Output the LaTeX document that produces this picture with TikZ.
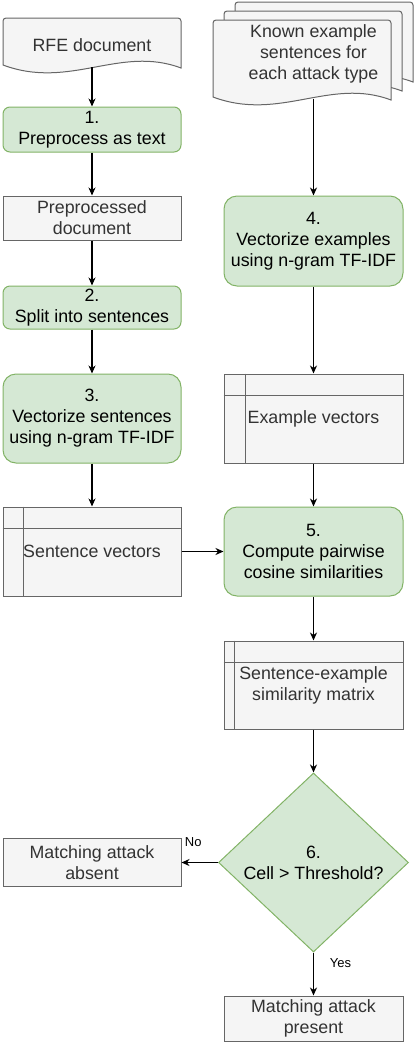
\documentclass[tikz,border=0pt]{standalone}
\usepackage{fontspec}
\setmainfont{Liberation Sans}
\usetikzlibrary{shapes.geometric,arrows.meta}

\definecolor{stepfill}{HTML}{D5E8D4}
\definecolor{stepline}{HTML}{82B366}
\definecolor{datafill}{HTML}{F5F5F5}
\definecolor{dataline}{HTML}{666666}
\definecolor{datatext}{HTML}{333333}

\tikzset{
  every node/.style={font=\fontsize{17.8pt}{21pt}\selectfont, align=center, inner sep=0pt},
  stepbox/.style={draw=stepline, fill=stepfill, line width=1pt, rounded corners=7pt},
  bigstep/.style={stepbox, rounded corners=13pt},
  databox/.style={draw=dataline, fill=datafill, text=datatext, line width=1pt},
  doctext/.style={text=datatext},
  decision/.style={shape=diamond, draw=stepline, fill=stepfill, line width=1pt,
    minimum width=190pt, minimum height=179pt},
  docline/.style={draw=dataline, fill=datafill, line width=1pt},
  flow/.style={line width=1.1pt, -{Stealth[length=8pt,width=7pt,inset=2.5pt]}},
  edgelabel/.style={font=\fontsize{13pt}{15pt}\selectfont}
}

% document shape: left, top, width, height
\newcommand{\docpath}[4]{%
  \path[docline] [rounded corners=3pt] (#1,{#2+#4-3}) -- (#1,#2) -- ({#1+#3},#2)
    [sharp corners] -- ({#1+#3},{#2+#4})
    .. controls ({#1+0.657*#3},{#2+#4-23}) and ({#1+0.376*#3},{#2+#4+22}) .. (#1,{#2+#4-3}) -- cycle;}

\begin{document}
\begin{tikzpicture}[x=1pt,y=-1pt]
\useasboundingbox (0,0) rectangle (414,1042);

% input documents
\docpath{3}{18}{178}{50}
\docpath{235}{2}{178}{80}
\docpath{224}{11}{178}{80}
\docpath{213}{20}{178}{80}
\node[doctext, minimum width=178pt, minimum height=44pt] (rfe) at (92,45) {RFE document};
\node[doctext, minimum width=200pt, minimum height=90pt] (known) at (313.5,54)
  {Known example\\sentences for\\each attack type};

% left column
\node[stepbox, minimum width=178pt, minimum height=45pt] (prep) at (92,129.5) {1.\\Preprocess as text};
\node[databox, minimum width=178pt, minimum height=44pt] (prepdoc) at (92,218) {Preprocessed\\document};
\node[stepbox, minimum width=178pt, minimum height=43pt] (split) at (92,307.5) {2.\\Split into sentences};
\node[bigstep, minimum width=178pt, minimum height=89pt] (vecsent) at (92,418.5) {3.\\Vectorize sentences\\using n-gram TF-IDF};
\node[databox, minimum width=178pt, minimum height=89pt] (sentvec) at (92,551.5) {Sentence vectors};

% right column
\node[bigstep, minimum width=179pt, minimum height=90pt] (vecex) at (313.5,241) {4.\\Vectorize examples\\using n-gram TF-IDF};
\node[databox, minimum width=179pt, minimum height=89pt] (exvec) at (313.5,418.5) {Example vectors};
\node[bigstep, minimum width=179pt, minimum height=89pt] (cosine) at (313.5,551.5) {5.\\Compute pairwise\\cosine similarities};
\node[databox, minimum width=179pt, minimum height=88pt] (simmat) at (313.5,685) {Sentence-example\\similarity matrix};
\node[decision] (thresh) at (313.5,862.5) {6.\\Cell > Threshold?};
\node[databox, minimum width=178pt, minimum height=48pt] (absent) at (92,862.5) {Matching attack\\absent};
\node[databox, minimum width=179pt, minimum height=45pt] (present) at (313.5,1018.5) {Matching attack\\present};

% internal storage lines
\foreach \n/\dx in {sentvec/21, exvec/22, simmat/11} {
  \draw[dataline, line width=1pt] ([xshift=\dx pt]\n.north west) -- ([xshift=\dx pt]\n.south west);
  \draw[dataline, line width=1pt] ([yshift=-22pt]\n.north west) -- ([yshift=-22pt]\n.north east);
}

% connectors
\draw[flow] (rfe) -- (prep);
\draw[flow] (prep) -- (prepdoc);
\draw[flow] (prepdoc) -- (split);
\draw[flow] (split) -- (vecsent);
\draw[flow] (vecsent) -- (sentvec);
\draw[flow] (known) -- (vecex);
\draw[flow] (vecex) -- (exvec);
\draw[flow] (exvec) -- (cosine);
\draw[flow, line width=1.7pt] (sentvec) -- (cosine);
\draw[flow] (cosine) -- (simmat);
\draw[flow] (simmat) -- (thresh);
\draw[flow] (thresh) -- node[edgelabel, pos=0.68, yshift=20pt] {No} (absent);
\draw[flow] (thresh) -- node[edgelabel, pos=0.25, xshift=27pt] {Yes} (present);
\end{tikzpicture}
\end{document}
